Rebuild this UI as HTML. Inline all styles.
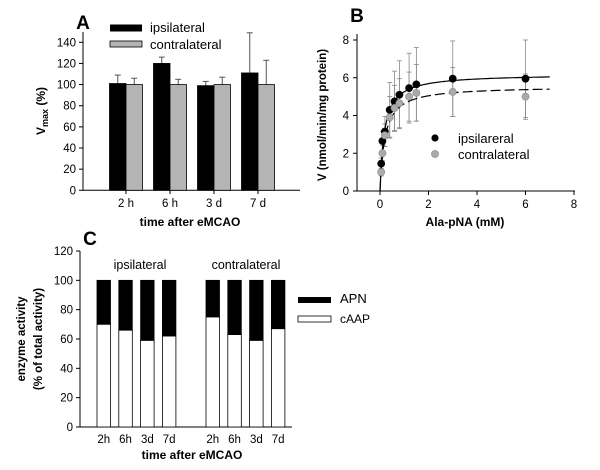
<!DOCTYPE html>
<html><head><meta charset="utf-8"><style>
body{margin:0;background:#fff}
svg{display:block;font-family:"Liberation Sans",Arial,sans-serif}
</style></head><body>
<svg id="fig" width="600" height="470" viewBox="0 0 600 470"></svg>
<script>
// Panel A data
const aCats=["2 h","6 h","3 d","7 d"];
const aIpsi=[101,120,99,111];
const aIpsiErr=[8,6,4,38];
const aContra=[100,100,100,100];
const aContraErr=[6,5,7,23];
const aTicks=[0,20,40,60,80,100,120,140];
// Panel B data
const bX=[0.05,0.1,0.2,0.4,0.6,0.8,1.2,1.5,3,6];
const bIpsi=[1.45,2.65,3.15,4.3,4.75,5.1,5.45,5.65,5.95,5.95];
const bIpsiErr=[0.3,0.5,0.8,1.45,1.6,1.8,1.85,1.95,2.0,2.05];
const bContra=[1.0,2.0,2.95,3.9,4.4,4.65,5.0,5.2,5.25,5.0];
const bContraErr=[0.2,0.4,0.6,1.1,1.2,1.3,1.3,1.5,1.3,1.2];
const bFitVmax=[6.2,5.55];
const bFitKm=[0.18,0.2];
const bXTicks=[0,2,4,6,8];
const bYTicks=[0,2,4,6,8];
// Panel C data
const cCats=["2h","6h","3d","7d"];
const cIpsiCAAP=[70,66,59,62];
const cContraCAAP=[75,63,59,67];
const cTicks=[0,20,40,60,80,100,120];

const svg=document.getElementById('fig');
const NS='http://www.w3.org/2000/svg';
function el(tag,attrs,name,parent){const e=document.createElementNS(NS,tag);for(const k in attrs)e.setAttribute(k,attrs[k]);


(parent||svg).appendChild(e);return e;}
function txt(x,y,s,name,opt){const t=el('text',Object.assign({x:x,y:y,'font-size':11,fill:'#000'},opt||{}),name);t.textContent=s;return t;}

// ---------- Panel A ----------
const aY=v=>190.3-v*(148/140);
const aCx=i=>126+i*44;
const bw=16.5;
txt(83,29,"A","panel-a-label",{'font-size':19,'font-weight':'bold','text-anchor':'middle'});
el('line',{x1:83,y1:32,x2:83,y2:190.3,stroke:'#000','stroke-width':1},'panel-a-y-axis');
el('line',{x1:83,y1:190.3,x2:300,y2:190.3,stroke:'#000','stroke-width':1},'panel-a-x-axis');
aTicks.forEach(t=>{el('line',{x1:79,y1:aY(t),x2:83,y2:aY(t),stroke:'#000'},'panel-a-y-tick');
txt(76,aY(t)+4,String(t),'panel-a-y-tick-label',{'text-anchor':'end','font-size':11.5});});
aCats.forEach((c,i)=>{
 const cx=aCx(i);
 [[aIpsi,aIpsiErr,'#000',-bw],[aContra,aContraErr,'#b4b4b4',0]].forEach(([v,e,f,off],k)=>{
  const y=aY(v[i]);
  el('line',{x1:cx+off+bw/2,y1:y,x2:cx+off+bw/2,y2:aY(v[i]+e[i]),stroke:'#555','stroke-width':1},'panel-a-error-bar');
  el('line',{x1:cx+off+bw/2-3,y1:aY(v[i]+e[i]),x2:cx+off+bw/2+3,y2:aY(v[i]+e[i]),stroke:'#555','stroke-width':1},'panel-a-error-cap');
  el('rect',{x:cx+off,y:y,width:bw,height:190.3-y,fill:f,stroke:'#000','stroke-width':0.8},k?'bar-contralateral':'bar-ipsilateral');
 });
 el('line',{x1:cx,y1:190.3,x2:cx,y2:194,stroke:'#000'},'panel-a-x-tick');
 txt(cx,207,c,'panel-a-x-tick-label',{'text-anchor':'middle','font-size':11.5});
});
el('rect',{x:110,y:24.5,width:32,height:7,fill:'#000'},'legend-swatch-ipsilateral');
txt(150,32,"ipsilateral","legend-ipsilateral",{'font-size':13});
el('rect',{x:110,y:41,width:32,height:6,fill:'#b4b4b4',stroke:'#000','stroke-width':0.8},'legend-swatch-contralateral');
txt(150,49,"contralateral","legend-contralateral",{'font-size':13});
{const t=el('text',{transform:'translate(45,111) rotate(-90)','text-anchor':'middle','font-size':12,'font-weight':'bold'},'panel-a-y-axis-title');
t.innerHTML='V<tspan font-size="9" dy="3">max</tspan><tspan dy="-3"> (%)</tspan>';}
txt(190,226,"time after eMCAO","panel-a-x-axis-title",{'text-anchor':'middle','font-weight':'bold','font-size':12});

// ---------- Panel B ----------
const bXs=x=>380+x*24.25;
const bYs=v=>191-v*18.875;
txt(357,22,"B","panel-b-label",{'font-size':19,'font-weight':'bold','text-anchor':'middle'});
el('line',{x1:357,y1:34,x2:357,y2:191,stroke:'#000'},'panel-b-y-axis');
el('line',{x1:357,y1:191,x2:575,y2:191,stroke:'#000'},'panel-b-x-axis');
bYTicks.forEach(t=>{el('line',{x1:353,y1:bYs(t),x2:357,y2:bYs(t),stroke:'#000'},'panel-b-y-tick');
txt(349,bYs(t)+4,String(t),'panel-b-y-tick-label',{'text-anchor':'end','font-size':11.5});});
bXTicks.forEach(t=>{el('line',{x1:bXs(t),y1:191,x2:bXs(t),y2:195,stroke:'#000'},'panel-b-x-tick');
txt(bXs(t),208,String(t),'panel-b-x-tick-label',{'text-anchor':'middle','font-size':11.5});});
[[bIpsi,bIpsiErr,'#000','ipsilateral'],[bContra,bContraErr,'#aaa','contralateral']].forEach(([v,e,f,n])=>{
 bX.forEach((x,i)=>{
  const px=bXs(x);
  el('line',{x1:px,y1:bYs(v[i]-e[i]),x2:px,y2:bYs(v[i]+e[i]),stroke:'#888','stroke-width':0.8},'error-bar-'+n);
  [v[i]-e[i],v[i]+e[i]].forEach(q=>el('line',{x1:px-2.5,y1:bYs(q),x2:px+2.5,y2:bYs(q),stroke:'#888','stroke-width':0.8},'error-cap-'+n));
 });
});
[0,1].forEach(k=>{
 let d='';for(let x=0;x<=7.001;x+=0.05){const v=bFitVmax[k]*x/(bFitKm[k]+x);d+=(d?'L':'M')+bXs(x).toFixed(1)+','+bYs(v).toFixed(1);}
 el('path',{d:d,fill:'none',stroke:'#000','stroke-width':1.2,'stroke-dasharray':k?'10,4':'none'},k?'fit-curve-contralateral':'fit-curve-ipsilateral');
});
[[bIpsi,'#000','ipsilateral'],[bContra,'#aaa','contralateral']].forEach(([v,f,n])=>{
 bX.forEach((x,i)=>el('circle',{cx:bXs(x),cy:bYs(v[i]),r:3.6,fill:f,stroke:n==='contralateral'?'#888':'#000','stroke-width':0.6},'point-'+n));
});
el('circle',{cx:435,cy:138,r:3.6,fill:'#000'},'legend-marker-ipsilateral');
txt(458,143,"ipsilareral","legend-ipsilareral",{'font-size':13});
el('circle',{cx:435,cy:154,r:3.6,fill:'#aaa',stroke:'#888','stroke-width':0.6},'legend-marker-contralateral');
txt(458,159,"contralateral","legend-b-contralateral",{'font-size':13});
txt(0,0,"V (nmol/min/mg protein)","panel-b-y-axis-title",{'text-anchor':'middle','font-weight':'bold','font-size':11.5,transform:'translate(326,115) rotate(-90)'});
txt(465,226,"Ala-pNA (mM)","panel-b-x-axis-title",{'text-anchor':'middle','font-weight':'bold','font-size':12});

// ---------- Panel C ----------
const cY=v=>427-v*(176/120);
const cBw=13.5;
const cXpos=(g,i)=>97+g*109+i*21.8;
txt(90,245,"C","panel-c-label",{'font-size':19,'font-weight':'bold','text-anchor':'middle'});
el('line',{x1:80,y1:251,x2:80,y2:427,stroke:'#000'},'panel-c-y-axis');
el('line',{x1:80,y1:427,x2:292,y2:427,stroke:'#000'},'panel-c-x-axis');
cTicks.forEach(t=>{el('line',{x1:76,y1:cY(t),x2:80,y2:cY(t),stroke:'#000'},'panel-c-y-tick');
txt(73,cY(t)+4,String(t),'panel-c-y-tick-label',{'text-anchor':'end','font-size':11.5});});
[cIpsiCAAP,cContraCAAP].forEach((arr,g)=>{
 cCats.forEach((c,i)=>{
  const x=cXpos(g,i);
  el('rect',{x:x,y:cY(100),width:cBw,height:cY(arr[i])-cY(100),fill:'#000',stroke:'#000','stroke-width':0.8},'bar-apn');
  el('rect',{x:x,y:cY(arr[i]),width:cBw,height:427-cY(arr[i]),fill:'#fff',stroke:'#000','stroke-width':0.8},'bar-caap');
  txt(x+cBw/2,443,c,'panel-c-x-tick-label',{'text-anchor':'middle','font-size':11.5});
 });
});
txt(140,269,"ipsilateral","group-label-ipsilateral",{'text-anchor':'middle','font-size':12.5});
txt(246,269,"contralateral","group-label-contralateral",{'text-anchor':'middle','font-size':12.5});
el('rect',{x:298,y:297,width:33,height:6,fill:'#000'},'legend-swatch-apn');
txt(340,303,"APN","legend-apn",{'font-size':13});
el('rect',{x:298,y:316,width:33,height:6,fill:'#fff',stroke:'#000','stroke-width':0.8},'legend-swatch-caap');
txt(340,323,"cAAP","legend-caap",{'font-size':12});
txt(0,0,"enzyme activity","panel-c-y-axis-title-line1",{'text-anchor':'middle','font-weight':'bold','font-size':11.5,transform:'translate(25,339) rotate(-90)'});
txt(0,0,"(% of total activity)","panel-c-y-axis-title-line2",{'text-anchor':'middle','font-weight':'bold','font-size':11.5,transform:'translate(42,339) rotate(-90)'});
txt(192,459,"time after eMCAO","panel-c-x-axis-title",{'text-anchor':'middle','font-weight':'bold','font-size':12});
</script>
</body></html>
